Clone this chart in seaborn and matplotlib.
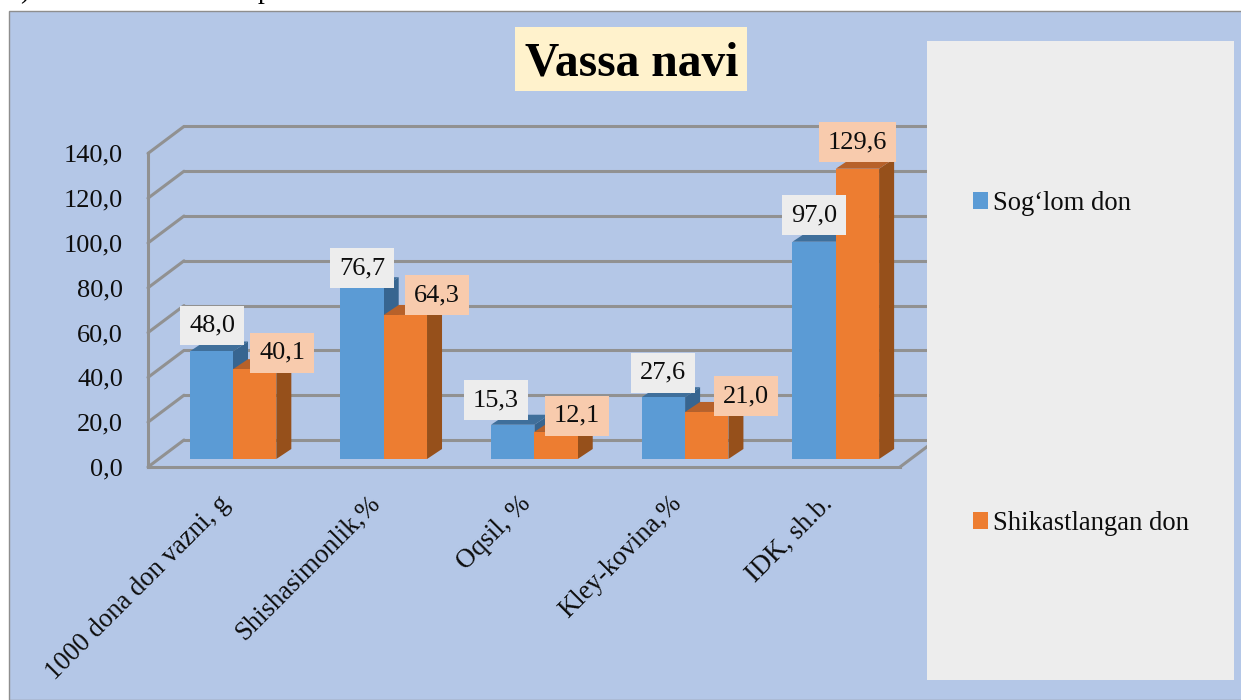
import matplotlib
matplotlib.use("Agg")
import matplotlib.pyplot as plt
from matplotlib.patches import Polygon, Rectangle
from matplotlib.transforms import Affine2D
import pandas as pd
import seaborn as sns

# Ma'lumotlar
categories = ['1000 dona don vazni, g', 'Shishasimonlik,%', 'Oqsil, %', 'Kley-kovina,%', 'IDK, sh.b.']
healthy = [48.0, 76.7, 15.3, 27.6, 97.0]
damaged = [40.1, 64.3, 12.1, 21.0, 129.6]
series_names = ['Sog‘lom don', 'Shikastlangan don']
y_ticks = [0, 20, 40, 60, 80, 100, 120, 140]

df = pd.DataFrame({
    'parametr': categories * 2,
    'qiymat': healthy + damaged,
    'don': [series_names[0]] * 5 + [series_names[1]] * 5,
})

sns.set_style("white")
plt.rcParams['font.family'] = ['Liberation Serif', 'DejaVu Serif']

W, H = 1241, 700
FS = 19
INK = '#0d0d0d'
GRID = '#919191'
fig = plt.figure(figsize=(W / 100, H / 100), dpi=100, facecolor='white')

# chart background with thin border, runs off the right and bottom edge
fig.patches.append(Rectangle((9 / W, 0), 1.0, (H - 11) / H, transform=fig.transFigure,
                             facecolor='#B4C7E7', edgecolor='#8e8e8e', lw=1, zorder=-2))
# title box
fig.patches.append(Rectangle((515 / W, (H - 91) / H), 232 / W, 64 / H, transform=fig.transFigure,
                             facecolor='#FFF2CC', edgecolor='none', zorder=-1))

# the end of the text line above the chart, cut by the page edge
fig.text(20 / W, (H + 2) / H, ')', fontsize=20, color='black', va='baseline')
fig.text(258 / W, (H + 2) / H, 'p', fontsize=20, color='black', va='baseline')

# axes = front plane of the 3D box
px_x = 150.7
px_y = 2.24
ax = fig.add_axes([148 / W, (H - 467) / H, 752 / W, 140 * px_y / H])
ax.patch.set_alpha(0)

sns.barplot(data=df, x='parametr', y='qiymat', hue='don', hue_order=series_names,
            palette=['#5B9BD5', '#ED7D31'], width=0.575, gap=0, saturation=1,
            errorbar=None, linewidth=0, edgecolor='none', ax=ax)

ax.set_xlim(-85 / px_x, 667 / px_x)
ax.set_ylim(0, 140)
ax.set_xlabel('')
ax.set_ylabel('')
ax.set_yticks(y_ticks)
ax.set_yticklabels([f'{t:.1f}'.replace('.', ',') for t in y_ticks], fontsize=FS, color=INK)
ax.tick_params(axis='y', length=0, pad=18)
ax.tick_params(axis='x', length=0, pad=18)
for lab in ax.get_yticklabels():
    lab.set_va('center_baseline')
for lab in ax.get_xticklabels():
    lab.set_rotation(45)
    lab.set_ha('right')
    lab.set_va('top')
    lab.set_rotation_mode('anchor')
    lab.set_fontsize(19.2)
    lab.set_color(INK)
    lab.set_transform(lab.get_transform() + Affine2D().translate(-16, 1))

sns.despine(ax=ax, top=True, right=True)
for side in ['left', 'bottom']:
    ax.spines[side].set_color(GRID)
    ax.spines[side].set_linewidth(2.2)

# walls and floor
x0, x1 = ax.get_xlim()
wall_dx = 36 / px_x
wall_dy = 27 / px_y
for t in y_ticks:
    ax.plot([x0, x0 + wall_dx], [t, t + wall_dy], color=GRID, lw=2.2, clip_on=False, zorder=0.6)
    ax.plot([x0 + wall_dx, x1 + wall_dx], [t + wall_dy, t + wall_dy], color=GRID, lw=2.2,
            clip_on=False, zorder=0.6)
ax.plot([x1, x1 + wall_dx], [0, wall_dy], color=GRID, lw=2.2, clip_on=False, zorder=0.6)

# bars stand in the middle of the floor, with side and top faces
base = 8 / px_y
bar_dx = 15 / px_x
bar_dy = 10 / px_y
face_colors = [('#3F6F9B', '#376590'), ('#B7612A', '#96501B')]
for i, cont in enumerate(ax.containers):
    top_c, side_c = face_colors[i]
    for bar in cont:
        bar.set_y(bar.get_y() + base)
        bar.set_zorder(3 + 2 * i)
        bar.set_clip_on(False)
        xl = bar.get_x()
        xr = xl + bar.get_width()
        yb = bar.get_y()
        yt = yb + bar.get_height()
        ax.add_patch(Polygon([(xr, yb), (xr + bar_dx, yb + bar_dy), (xr + bar_dx, yt + bar_dy), (xr, yt)],
                             facecolor=side_c, edgecolor='none', zorder=2 + 2 * i, clip_on=False))
        ax.add_patch(Polygon([(xl, yt), (xl + bar_dx, yt + bar_dy), (xr + bar_dx, yt + bar_dy), (xr, yt)],
                             facecolor=top_c, edgecolor='none', zorder=2 + 2 * i, clip_on=False))

# data labels, moved by hand like in the original
label_shift = [
    [(1, 26), (0, 19), (-17, 24.5), (0, 24.5), (0, 26.5)],
    [(27.5, 16.5), (31.5, 20), (21, 16), (39, 16), (0, 26.5)],
]
label_bg = ['#EDEDED', '#F8CBAD']
for i, cont in enumerate(ax.containers):
    for j, bar in enumerate(cont):
        ax.annotate(f'{bar.get_height():.1f}'.replace('.', ','),
                    xy=(bar.get_x() + bar.get_width() / 2, bar.get_y() + bar.get_height()),
                    xytext=label_shift[i][j], textcoords='offset pixels',
                    ha='center', va='center', fontsize=FS, color=INK, zorder=10,
                    annotation_clip=False,
                    bbox=dict(boxstyle='square,pad=0.34', facecolor=label_bg[i], edgecolor='none'))

# legend panel
ax.add_patch(Rectangle((927 / W, (H - 680) / H), 307 / W, 639 / H, transform=fig.transFigure,
                       facecolor='#EDEDED', edgecolor='none', zorder=8, clip_on=False))
sns.move_legend(ax, 'upper left', bbox_to_anchor=(973 / W, (H - 191) / H),
                bbox_transform=fig.transFigure, frameon=False, title=None, fontsize=19.2,
                labelspacing=11.06, handlelength=0.56, handleheight=0.56, handletextpad=0.2,
                borderpad=0, borderaxespad=0)
leg = ax.get_legend()
leg.set_zorder(9)
for txt in leg.get_texts():
    txt.set_color(INK)

# title
fig.text(632 / W, (H - 76) / H, 'Vassa navi', fontsize=34.3, fontweight='bold', color='black',
         ha='center', va='baseline')

fig.savefig('out.png', dpi=100)
